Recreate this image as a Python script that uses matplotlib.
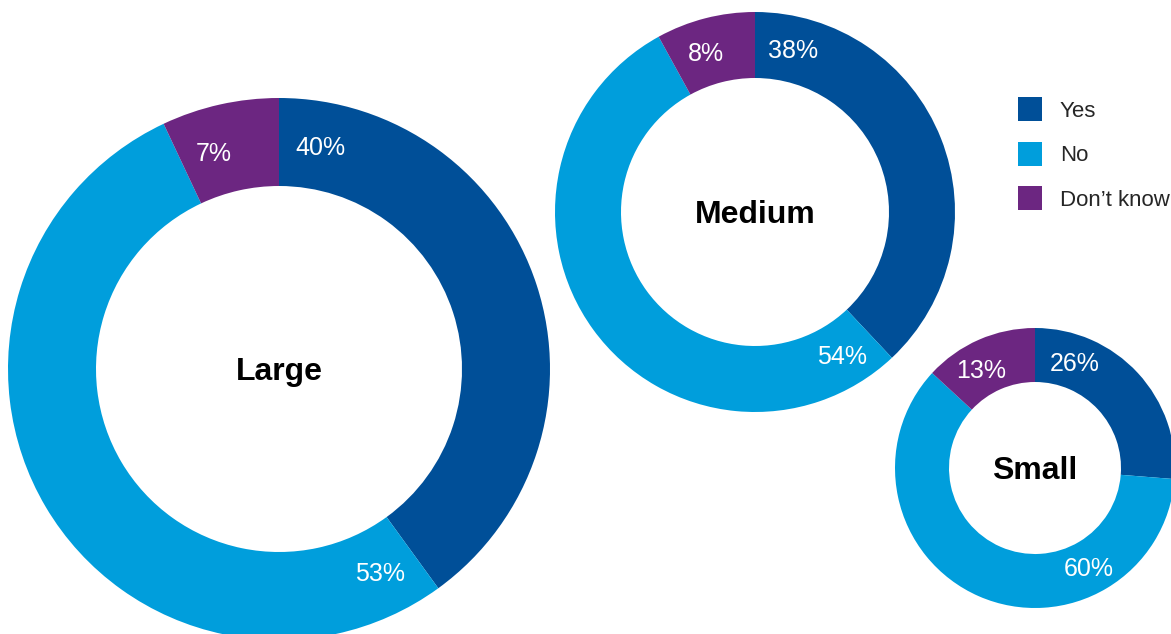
import matplotlib
matplotlib.use("Agg")
import matplotlib.pyplot as plt
from matplotlib.patches import Rectangle
import numpy as np

# Survey answers by company size
categories = ["Yes", "No", "Don\u2019t know"]
groups = ["Large", "Medium", "Small"]
large = [40, 53, 7]
medium = [38, 54, 8]
small = [26, 60, 13]
series = [large, medium, small]

colors = ["#004F98", "#009EDC", "#6C2681"]

W, H = 1171, 634
fig = plt.figure(figsize=(W / 100, H / 100), dpi=100)
ax = fig.add_axes([0, 0, 1, 1])

FONT = "Liberation Sans"
CAP = 0.716  # cap height as a fraction of the em


def px(pt):
    return pt * 100 / 72


# Layout of each donut in pixel space (top-left origin): centre, outer, inner
# radius, and the clockwise angle (from 12 o'clock) of each value label
layout = [
    dict(c=(279, 369), r=271, ri=183, lab=[10.6, 153.6, 343.2]),
    dict(c=(755, 212), r=200, ri=134, lab=[13.0, 148.7, 343.0]),
    dict(c=(1035, 468), r=140, ri=86, lab=[20.7, 151.6, 331.6]),
]

pct_size = 18
name_size = 23

for name, vals, lay in zip(groups, series, layout):
    cx, cy = lay["c"][0], H - lay["c"][1]
    r, ri = lay["r"], lay["ri"]
    ax.pie(vals, colors=colors, startangle=90, counterclock=False,
           radius=r, center=(cx, cy), frame=True,
           wedgeprops=dict(width=r - ri, linewidth=0))
    rm = (r + ri) / 2
    for v, a in zip(vals, lay["lab"]):
        t = np.deg2rad(a)
        ax.text(cx + rm * np.sin(t), cy + rm * np.cos(t) - CAP * px(pct_size) / 2,
                f"{v}%", ha="center", va="baseline", family=FONT,
                fontsize=pct_size, color="white")
    ax.text(cx, cy - CAP * px(name_size) / 2, name, ha="center", va="baseline",
            family=FONT, weight="bold", fontsize=name_size, color="black")

# Legend
leg_size = 16
for i, (lab, col) in enumerate(zip(categories, colors)):
    y = H - (109 + 44.5 * i)
    ax.add_patch(Rectangle((1018, y - 12), 24, 24, color=col, lw=0))
    ax.text(1060, y - CAP * px(leg_size) / 2, lab, ha="left", va="baseline",
            family=FONT, fontsize=leg_size, color="#262626")

ax.set_xlim(0, W)
ax.set_ylim(0, H)
ax.set_aspect("equal")
ax.axis("off")
fig.savefig("out.png", dpi=100)
